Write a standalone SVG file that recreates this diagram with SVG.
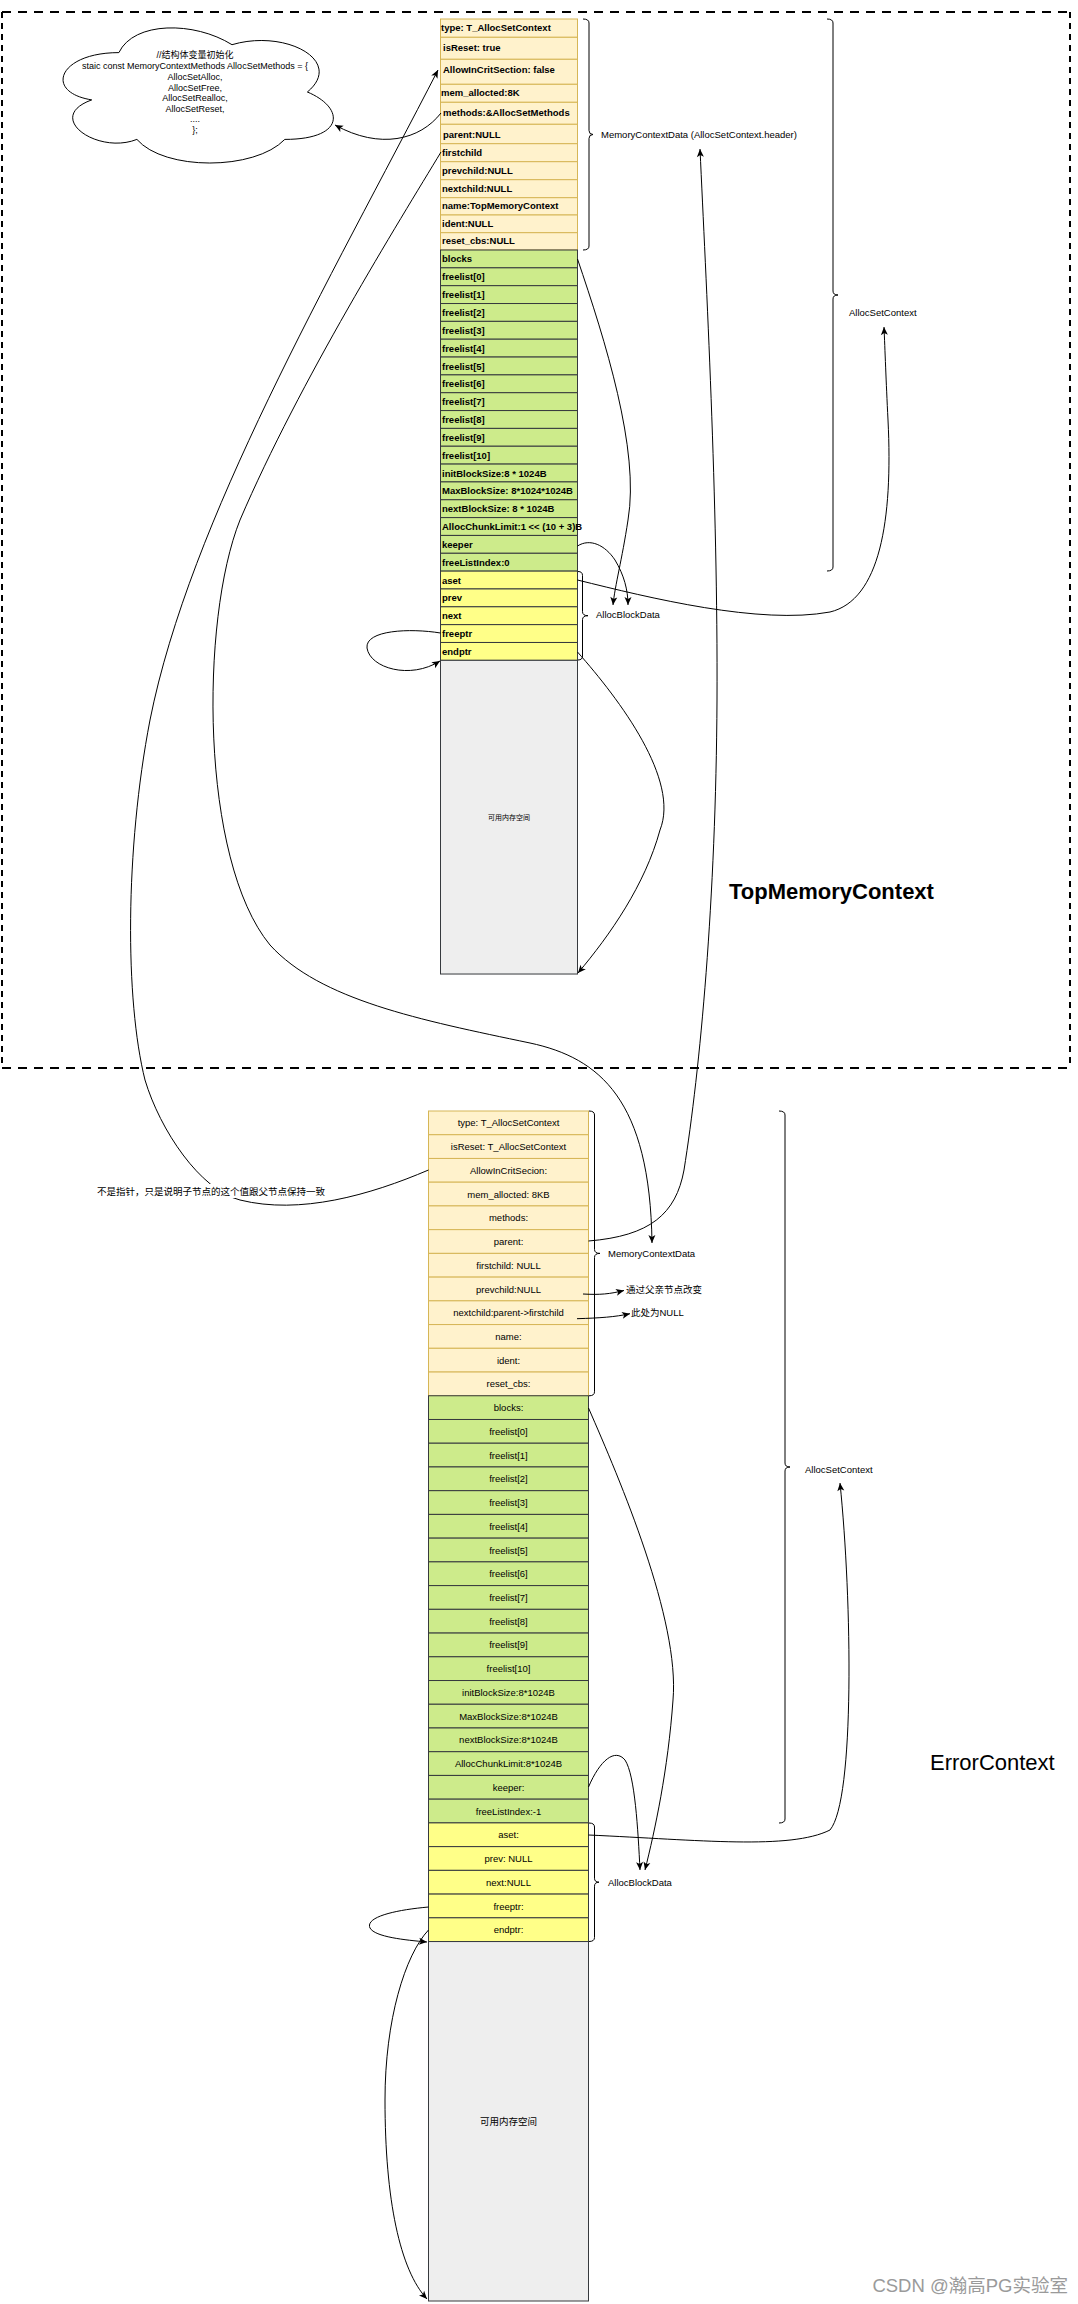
<svg xmlns="http://www.w3.org/2000/svg" width="1078" height="2304" viewBox="0 0 1078 2304">
<style>
.hdr{fill:#fff2cc;stroke:#d6b656;stroke-width:1}
.grn{fill:#cdeb8b;stroke:#36393d;stroke-width:1}
.yel{fill:#ffff88;stroke:#36393d;stroke-width:1}
.gry{fill:#eeeeee;stroke:#36393d;stroke-width:1}
.tb{font-family:"Liberation Sans",Arial,sans-serif;font-size:9.5px;font-weight:bold;fill:#000;dominant-baseline:central}
.tn{font-family:"Liberation Sans",Arial,sans-serif;font-size:9.5px;fill:#000;dominant-baseline:central;text-anchor:middle}
.lb{font-family:"Liberation Sans","Noto Sans CJK SC",sans-serif;font-size:9.5px;fill:#000;dominant-baseline:central}
.edge{fill:none;stroke:#000;stroke-width:1}
.arr{marker-end:url(#ah)}
.brace{fill:none;stroke:#000;stroke-width:1}
</style>
<defs>
<marker id="ah" markerWidth="10" markerHeight="10" refX="9" refY="5" orient="auto" markerUnits="userSpaceOnUse">
<path d="M1,1.5 L9,5 L1,8.5 L3,5 Z" fill="#000"/>
</marker>
</defs>
<rect width="1078" height="2304" fill="#ffffff"/>

<g id="top-frame">
<line x1="2" y1="12" x2="1070" y2="12" stroke="#000" stroke-width="2" stroke-dasharray="9 7"/>
<line x1="2" y1="1068" x2="1070" y2="1068" stroke="#000" stroke-width="2" stroke-dasharray="9 7"/>
<line x1="2" y1="12" x2="2" y2="1068" stroke="#000" stroke-width="2" stroke-dasharray="6 5"/>
<line x1="1070" y1="12" x2="1070" y2="1068" stroke="#000" stroke-width="2" stroke-dasharray="6 5"/>
</g>

<g id="cloud">
<path d="M118.9,52.6 C58.6,52.6 43.4,92.0 91.7,99.9 C43.4,117.3 97.7,155.1 136.9,139.4 C164.1,170.9 254.6,170.9 284.8,139.4 C345.1,139.4 345.1,107.8 307.4,92.0 C345.1,60.5 284.8,28.9 232.0,44.7 C194.3,21.1 133.9,21.1 118.9,52.6 Z" fill="#fff" stroke="#000" stroke-width="1"/>
<g font-family="'Liberation Sans','Noto Sans CJK SC',sans-serif" font-size="9px" text-anchor="middle" dominant-baseline="central">
<text x="195" y="55">//结构体变量初始化</text>
<text x="195" y="66">staic const MemoryContextMethods AllocSetMethods = {</text>
<text x="195" y="77">AllocSetAlloc,</text>
<text x="195" y="87.7">AllocSetFree,</text>
<text x="195" y="98.3">AllocSetRealloc,</text>
<text x="195" y="109">AllocSetReset,</text>
<text x="195" y="119.3">....</text>
<text x="195" y="130">};</text>
</g>
</g>

<!-- TopMemoryContext header rows -->
<g id="t-type"><rect class="hdr" x="440.5" y="19" width="137" height="18.3"/><text class="tb" x="441" y="27.7">type: T_AllocSetContext</text></g>
<g id="t-isReset"><rect class="hdr" x="440.5" y="37.3" width="137" height="22"/><text class="tb" x="443" y="47.8">isReset: true</text></g>
<g id="t-allow"><rect class="hdr" x="440.5" y="59.3" width="137" height="25"/><text class="tb" x="443" y="69.5">AllowInCritSection: false</text></g>
<g id="t-mem"><rect class="hdr" x="440.5" y="84.3" width="137" height="18"/><text class="tb" x="441" y="92.3">mem_allocted:8K</text></g>
<g id="t-methods"><rect class="hdr" x="440.5" y="102.3" width="137" height="22"/><text class="tb" x="443" y="112.8">methods:&amp;AllocSetMethods</text></g>
<g id="t-parent"><rect class="hdr" x="440.5" y="124.3" width="137" height="19.4"/><text class="tb" x="443" y="134.3">parent:NULL</text></g>
<g id="t-firstchild"><rect class="hdr" x="440.5" y="143.7" width="137" height="18"/><text class="tb" x="442" y="152.2">firstchild</text></g>
<g id="t-prevchild"><rect class="hdr" x="440.5" y="161.7" width="137" height="18"/><text class="tb" x="442" y="170.2">prevchild:NULL</text></g>
<g id="t-nextchild"><rect class="hdr" x="440.5" y="179.7" width="137" height="18"/><text class="tb" x="442" y="188.2">nextchild:NULL</text></g>
<g id="t-name"><rect class="hdr" x="440.5" y="197.7" width="137" height="17.3"/><text class="tb" x="442" y="205.9">name:TopMemoryContext</text></g>
<g id="t-ident"><rect class="hdr" x="440.5" y="215" width="137" height="17.7"/><text class="tb" x="442" y="223.4">ident:NULL</text></g>
<g id="t-reset"><rect class="hdr" x="440.5" y="232.7" width="137" height="17.3"/><text class="tb" x="442" y="240.9">reset_cbs:NULL</text></g>

<!-- TopMemoryContext green rows -->
<g id="t-blocks"><rect class="grn" x="440.5" y="250" width="137" height="17.84"/><text class="tb" x="442" y="258.9">blocks</text></g>
<g id="t-fl0"><rect class="grn" x="440.5" y="267.84" width="137" height="17.84"/><text class="tb" x="442" y="276.8">freelist[0]</text></g>
<g id="t-fl1"><rect class="grn" x="440.5" y="285.68" width="137" height="17.84"/><text class="tb" x="442" y="294.6">freelist[1]</text></g>
<g id="t-fl2"><rect class="grn" x="440.5" y="303.52" width="137" height="17.84"/><text class="tb" x="442" y="312.4">freelist[2]</text></g>
<g id="t-fl3"><rect class="grn" x="440.5" y="321.36" width="137" height="17.84"/><text class="tb" x="442" y="330.3">freelist[3]</text></g>
<g id="t-fl4"><rect class="grn" x="440.5" y="339.2" width="137" height="17.84"/><text class="tb" x="442" y="348.1">freelist[4]</text></g>
<g id="t-fl5"><rect class="grn" x="440.5" y="357.04" width="137" height="17.84"/><text class="tb" x="442" y="366">freelist[5]</text></g>
<g id="t-fl6"><rect class="grn" x="440.5" y="374.88" width="137" height="17.84"/><text class="tb" x="442" y="383.8">freelist[6]</text></g>
<g id="t-fl7"><rect class="grn" x="440.5" y="392.72" width="137" height="17.84"/><text class="tb" x="442" y="401.6">freelist[7]</text></g>
<g id="t-fl8"><rect class="grn" x="440.5" y="410.56" width="137" height="17.84"/><text class="tb" x="442" y="419.5">freelist[8]</text></g>
<g id="t-fl9"><rect class="grn" x="440.5" y="428.4" width="137" height="17.84"/><text class="tb" x="442" y="437.3">freelist[9]</text></g>
<g id="t-fl10"><rect class="grn" x="440.5" y="446.24" width="137" height="17.84"/><text class="tb" x="442" y="455.2">freelist[10]</text></g>
<g id="t-init"><rect class="grn" x="440.5" y="464.08" width="137" height="17.84"/><text class="tb" x="442" y="473">initBlockSize:8 * 1024B</text></g>
<g id="t-max"><rect class="grn" x="440.5" y="481.92" width="137" height="17.84"/><text class="tb" x="442" y="490.8">MaxBlockSize: 8*1024*1024B</text></g>
<g id="t-next"><rect class="grn" x="440.5" y="499.76" width="137" height="17.84"/><text class="tb" x="442" y="508.7">nextBlockSize: 8 * 1024B</text></g>
<g id="t-chunk"><rect class="grn" x="440.5" y="517.6" width="137" height="17.84"/><text class="tb" x="442" y="526.5">AllocChunkLimit:1 &lt;&lt; (10 + 3)B</text></g>
<g id="t-keeper"><rect class="grn" x="440.5" y="535.44" width="137" height="17.84"/><text class="tb" x="442" y="544.4">keeper</text></g>
<g id="t-fli"><rect class="grn" x="440.5" y="553.28" width="137" height="17.84"/><text class="tb" x="442" y="562.2">freeListIndex:0</text></g>

<!-- TopMemoryContext block rows -->
<g id="t-aset"><rect class="yel" x="440.5" y="571.12" width="137" height="17.84"/><text class="tb" x="442" y="580">aset</text></g>
<g id="t-prev"><rect class="yel" x="440.5" y="588.96" width="137" height="17.84"/><text class="tb" x="442" y="597.9">prev</text></g>
<g id="t-bnext"><rect class="yel" x="440.5" y="606.8" width="137" height="17.84"/><text class="tb" x="442" y="615.7">next</text></g>
<g id="t-freeptr"><rect class="yel" x="440.5" y="624.64" width="137" height="17.84"/><text class="tb" x="442" y="633.6">freeptr</text></g>
<g id="t-endptr"><rect class="yel" x="440.5" y="642.48" width="137" height="17.84"/><text class="tb" x="442" y="651.4">endptr</text></g>
<g id="t-space"><rect class="gry" x="440.5" y="660.32" width="137" height="313.7"/><text x="509" y="817" font-family="'Liberation Sans','Noto Sans CJK SC',sans-serif" font-size="7px" text-anchor="middle" dominant-baseline="central">可用内存空间</text></g>

<!-- Top braces and labels -->
<g id="t-hdr-label">
<path class="brace" d="M583,19 Q589,19 589,23 L589,130.5 Q589,134.5 593,134.5 Q589,134.5 589,138.5 L589,246 Q589,250 583,250"/>
<text class="lb" x="601" y="134.7">MemoryContextData (AllocSetContext.header)</text>
</g>
<g id="t-ctx-label">
<path class="brace" d="M827,19 Q833,19 833,23 L833,291 Q833,295 838,295 Q833,295 833,299 L833,567 Q833,571 827,571"/>
<text class="lb" x="849" y="312">AllocSetContext</text>
</g>
<g id="t-block-label">
<path class="brace" d="M578,571.5 Q582.5,571.5 582.5,575.5 L582.5,611.7 Q582.5,615.7 588,615.7 Q582.5,615.7 582.5,619.7 L582.5,656 Q582.5,660 578,660"/>
<text class="lb" x="596" y="614.3">AllocBlockData</text>
</g>
<g id="t-title"><text x="729" y="891" font-family="'Liberation Sans',Arial,sans-serif" font-size="22px" font-weight="bold" dominant-baseline="central">TopMemoryContext</text></g>

<!-- ErrorContext header rows -->
<g id="e-type"><rect class="hdr" x="428.5" y="1111" width="160" height="23.73"/><text class="tn" x="508.5" y="1122.9">type: T_AllocSetContext</text></g>
<g id="e-isReset"><rect class="hdr" x="428.5" y="1134.73" width="160" height="23.73"/><text class="tn" x="508.5" y="1146.6">isReset: T_AllocSetContext</text></g>
<g id="e-allow"><rect class="hdr" x="428.5" y="1158.46" width="160" height="23.73"/><text class="tn" x="508.5" y="1170.3">AllowInCritSecion:</text></g>
<g id="e-mem"><rect class="hdr" x="428.5" y="1182.19" width="160" height="23.73"/><text class="tn" x="508.5" y="1194.1">mem_allocted: 8KB</text></g>
<g id="e-methods"><rect class="hdr" x="428.5" y="1205.92" width="160" height="23.73"/><text class="tn" x="508.5" y="1217.8">methods:</text></g>
<g id="e-parent"><rect class="hdr" x="428.5" y="1229.65" width="160" height="23.73"/><text class="tn" x="508.5" y="1241.5">parent:</text></g>
<g id="e-firstchild"><rect class="hdr" x="428.5" y="1253.38" width="160" height="23.73"/><text class="tn" x="508.5" y="1265.2">firstchild: NULL</text></g>
<g id="e-prevchild"><rect class="hdr" x="428.5" y="1277.11" width="160" height="23.73"/><text class="tn" x="508.5" y="1289">prevchild:NULL</text></g>
<g id="e-nextchild"><rect class="hdr" x="428.5" y="1300.84" width="160" height="23.73"/><text class="tn" x="508.5" y="1312.7">nextchild:parent-&gt;firstchild</text></g>
<g id="e-name"><rect class="hdr" x="428.5" y="1324.57" width="160" height="23.73"/><text class="tn" x="508.5" y="1336.4">name:</text></g>
<g id="e-ident"><rect class="hdr" x="428.5" y="1348.3" width="160" height="23.73"/><text class="tn" x="508.5" y="1360.2">ident:</text></g>
<g id="e-reset"><rect class="hdr" x="428.5" y="1372.03" width="160" height="23.73"/><text class="tn" x="508.5" y="1383.9">reset_cbs:</text></g>

<!-- ErrorContext green rows -->
<g id="e-blocks"><rect class="grn" x="428.5" y="1395.76" width="160" height="23.73"/><text class="tn" x="508.5" y="1407.6">blocks:</text></g>
<g id="e-fl0"><rect class="grn" x="428.5" y="1419.49" width="160" height="23.73"/><text class="tn" x="508.5" y="1431.4">freelist[0]</text></g>
<g id="e-fl1"><rect class="grn" x="428.5" y="1443.22" width="160" height="23.73"/><text class="tn" x="508.5" y="1455.1">freelist[1]</text></g>
<g id="e-fl2"><rect class="grn" x="428.5" y="1466.95" width="160" height="23.73"/><text class="tn" x="508.5" y="1478.8">freelist[2]</text></g>
<g id="e-fl3"><rect class="grn" x="428.5" y="1490.68" width="160" height="23.73"/><text class="tn" x="508.5" y="1502.5">freelist[3]</text></g>
<g id="e-fl4"><rect class="grn" x="428.5" y="1514.41" width="160" height="23.73"/><text class="tn" x="508.5" y="1526.3">freelist[4]</text></g>
<g id="e-fl5"><rect class="grn" x="428.5" y="1538.14" width="160" height="23.73"/><text class="tn" x="508.5" y="1550">freelist[5]</text></g>
<g id="e-fl6"><rect class="grn" x="428.5" y="1561.87" width="160" height="23.73"/><text class="tn" x="508.5" y="1573.7">freelist[6]</text></g>
<g id="e-fl7"><rect class="grn" x="428.5" y="1585.6" width="160" height="23.73"/><text class="tn" x="508.5" y="1597.5">freelist[7]</text></g>
<g id="e-fl8"><rect class="grn" x="428.5" y="1609.33" width="160" height="23.73"/><text class="tn" x="508.5" y="1621.2">freelist[8]</text></g>
<g id="e-fl9"><rect class="grn" x="428.5" y="1633.06" width="160" height="23.73"/><text class="tn" x="508.5" y="1644.9">freelist[9]</text></g>
<g id="e-fl10"><rect class="grn" x="428.5" y="1656.79" width="160" height="23.73"/><text class="tn" x="508.5" y="1668.7">freelist[10]</text></g>
<g id="e-init"><rect class="grn" x="428.5" y="1680.52" width="160" height="23.73"/><text class="tn" x="508.5" y="1692.4">initBlockSize:8*1024B</text></g>
<g id="e-max"><rect class="grn" x="428.5" y="1704.25" width="160" height="23.73"/><text class="tn" x="508.5" y="1716.1">MaxBlockSize:8*1024B</text></g>
<g id="e-next"><rect class="grn" x="428.5" y="1727.98" width="160" height="23.73"/><text class="tn" x="508.5" y="1739.8">nextBlockSize:8*1024B</text></g>
<g id="e-chunk"><rect class="grn" x="428.5" y="1751.71" width="160" height="23.73"/><text class="tn" x="508.5" y="1763.6">AllocChunkLimit:8*1024B</text></g>
<g id="e-keeper"><rect class="grn" x="428.5" y="1775.44" width="160" height="23.73"/><text class="tn" x="508.5" y="1787.3">keeper:</text></g>
<g id="e-fli"><rect class="grn" x="428.5" y="1799.17" width="160" height="23.73"/><text class="tn" x="508.5" y="1811">freeListIndex:-1</text></g>

<!-- ErrorContext block rows -->
<g id="e-aset"><rect class="yel" x="428.5" y="1822.9" width="160" height="23.73"/><text class="tn" x="508.5" y="1834.8">aset:</text></g>
<g id="e-prev"><rect class="yel" x="428.5" y="1846.63" width="160" height="23.73"/><text class="tn" x="508.5" y="1858.5">prev: NULL</text></g>
<g id="e-bnext"><rect class="yel" x="428.5" y="1870.36" width="160" height="23.73"/><text class="tn" x="508.5" y="1882.2">next:NULL</text></g>
<g id="e-freeptr"><rect class="yel" x="428.5" y="1894.09" width="160" height="23.73"/><text class="tn" x="508.5" y="1906">freeptr:</text></g>
<g id="e-endptr"><rect class="yel" x="428.5" y="1917.82" width="160" height="23.73"/><text class="tn" x="508.5" y="1929.7">endptr:</text></g>
<g id="e-space"><rect class="gry" x="428.5" y="1941.55" width="160" height="359.45"/><text x="508.5" y="2121" font-family="'Liberation Sans','Noto Sans CJK SC',sans-serif" font-size="9.5px" text-anchor="middle" dominant-baseline="central">可用内存空间</text></g>

<!-- ErrorContext braces and labels -->
<g id="e-hdr-label">
<path class="brace" d="M589,1111 Q594.5,1111 594.5,1115 L594.5,1249.4 Q594.5,1253.4 600,1253.4 Q594.5,1253.4 594.5,1257.4 L594.5,1391.8 Q594.5,1395.8 589,1395.8"/>
<text class="lb" x="608" y="1253">MemoryContextData</text>
</g>
<g id="e-ctx-label">
<path class="brace" d="M779,1111 Q785,1111 785,1115 L785,1463 Q785,1467 790,1467 Q785,1467 785,1471 L785,1819 Q785,1823 779,1823"/>
<text class="lb" x="805" y="1469">AllocSetContext</text>
</g>
<g id="e-block-label">
<path class="brace" d="M589,1823 Q594.5,1823 594.5,1827 L594.5,1878.2 Q594.5,1882.2 599,1882.2 Q594.5,1882.2 594.5,1886.2 L594.5,1937.5 Q594.5,1941.5 589,1941.5"/>
<text class="lb" x="608" y="1882">AllocBlockData</text>
</g>
<g id="e-note1"><text class="lb" x="626" y="1289">通过父亲节点改变</text></g>
<g id="e-note2"><text class="lb" x="631" y="1312.5">此处为NULL</text></g>
<g id="e-title"><text x="930" y="1762" font-family="'Liberation Sans',Arial,sans-serif" font-size="22px" dominant-baseline="central">ErrorContext</text></g>

<!-- Connectors -->
<g id="connectors">
<path class="edge arr" d="M441,113 C420,140 380,150 335,125"/>
<path class="edge arr" d="M428.5,1170 C370,1195 300,1215 240,1200 C200,1190 160,1130 145,1080 C125,1000 125,850 150,720 C190,520 330,280 438,70"/>
<path class="edge arr" d="M441,152 C400,220 300,380 240,520 C200,620 200,860 270,945 C320,1000 420,1020 530,1043 C600,1058 650,1100 652,1243"/>
<path class="edge arr" d="M577.5,259 C605,340 640,450 628,520 C622,560 615,585 613,605"/>
<path class="edge arr" d="M577.5,546 C590,538 605,545 615,560 C624,575 628,590 628,605"/>
<path class="edge arr" d="M577.5,580 C650,598 760,625 830,612 C880,600 893,520 888,420 C886,380 885,350 884,327"/>
<path class="edge arr" d="M440.5,633 C410,628 365,630 367,648 C370,668 410,680 440,661"/>
<path class="edge arr" d="M577.5,652 C620,700 680,780 660,830 C645,885 610,935 578,973"/>
<path class="edge arr" d="M588.5,1241 C650,1236 676,1214 684,1170 C700,1070 716,900 717,700 C718,500 706,280 700,149"/>
<path class="edge arr" d="M583,1294 C600,1295 610,1294 624,1290.5"/>
<path class="edge arr" d="M577,1318.7 C600,1318 615,1317 630,1313.7"/>
<path class="edge arr" d="M588.5,1408 C620,1480 680,1620 673,1700 C668,1770 655,1830 645,1870"/>
<path class="edge arr" d="M588.5,1787 C600,1760 615,1748 625,1760 C635,1775 638,1830 640,1870"/>
<path class="edge arr" d="M588.5,1835 C700,1840 790,1850 830,1830 C855,1800 852,1600 840,1483"/>
<path class="edge arr" d="M428.5,1907 C395,1910 365,1917 370,1928 C375,1937 405,1940 427,1942"/>
<path class="edge arr" d="M428.5,1930 C405,1955 385,2020 385,2100 C385,2200 400,2270 427,2299"/>
</g>

<g id="edge-label">
<rect x="96" y="1184" width="231" height="14" fill="#ffffff"/>
<text class="lb" x="211" y="1191" text-anchor="middle">不是指针，只是说明子节点的这个值跟父节点保持一致</text>
</g>

<g id="watermark"><text x="1068" y="2285" font-family="'Liberation Sans','Noto Sans CJK SC',sans-serif" font-size="18.5px" fill="#9a9a9a" text-anchor="end" dominant-baseline="central">CSDN @瀚高PG实验室</text></g>
</svg>
